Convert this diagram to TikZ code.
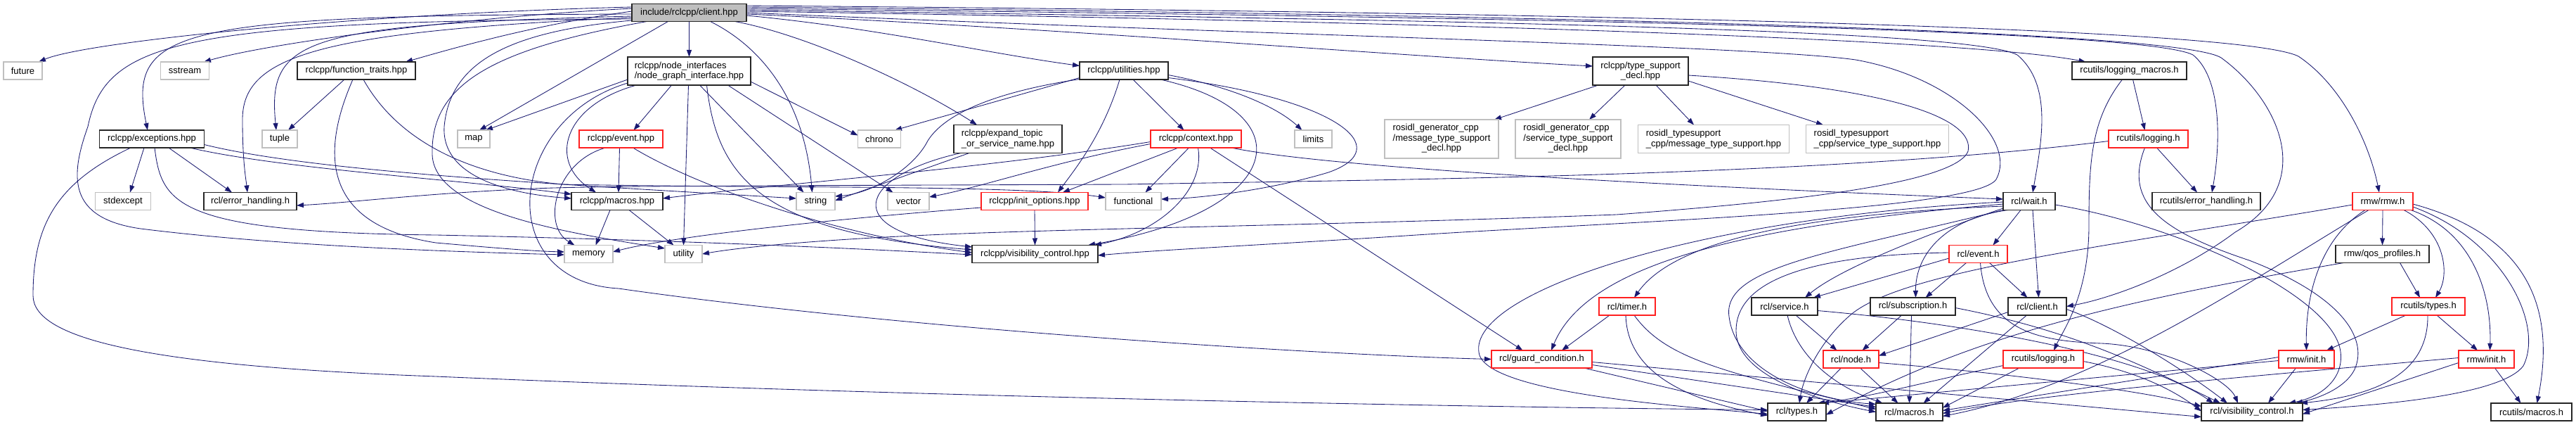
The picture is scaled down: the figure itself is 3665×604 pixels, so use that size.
\documentclass[tikz,border=0pt]{standalone}
\usepackage{fontspec}
\setmainfont{Liberation Sans}
\usetikzlibrary{arrows.meta}
\pgfdeclarelayer{bg}
\pgfsetlayers{bg,main}
\definecolor{edgecol}{HTML}{191970}
\definecolor{sysgray}{HTML}{BFBFBF}
\definecolor{redline}{HTML}{FF2020}
\definecolor{rootgray}{HTML}{BFBFBF}
\begin{document}
\begin{tikzpicture}[x=1pt,y=-1pt,
  box/.style={rectangle,minimum height=25pt,inner sep=0pt,outer sep=0pt,line width=1.2pt,fill=white,text=black,font=\fontsize{13pt}{14.5pt}\selectfont},
  blk/.style={box,draw=black!85},
  sys/.style={box,draw=sysgray},
  rbox/.style={box,draw=redline},
  dep/.style={draw=edgecol,line width=0.85pt,-{Triangle[length=10pt,width=7pt]}}]
\useasboundingbox (0,0) rectangle (3665,604);
\begin{pgfonlayer}{bg}
\fill[white] (0,0) rectangle (3665,604);
\end{pgfonlayer}

% ---------- nodes ----------
\node[blk,minimum width=163pt,fill=rootgray] (C) at (980.5,18) {include/rclcpp/client.hpp};
\node[sys,minimum width=55pt] (future) at (32.5,100.5) {future};
\node[sys,minimum width=69pt] (sstream) at (263,100.5) {sstream};
\node[blk,minimum width=168pt] (ft) at (507,100.5) {rclcpp/function\_traits.hpp};
\node[blk,minimum width=175pt,minimum height=40pt,align=left] (ngi) at (980.5,101) {rclcpp/node\_interfaces\\/node\_graph\_interface.hpp};
\node[blk,minimum width=126pt] (util) at (1599,100.5) {rclcpp/utilities.hpp};
\node[blk,minimum width=136pt,minimum height=40pt,align=center] (tsd) at (2334,101) {rclcpp/type\_support\\\_decl.hpp};
\node[blk,minimum width=163pt] (lm) at (3029.5,100.5) {rcutils/logging\_macros.h};
\node[blk,minimum width=149pt] (exc) at (216,197.5) {rclcpp/exceptions.hpp};
\node[sys,minimum width=50pt] (tuple) at (398,197.5) {tuple};
\node[sys,minimum width=46pt] (map) at (674,197.5) {map};
\node[rbox,minimum width=119pt] (evhpp) at (883.5,197.5) {rclcpp/event.hpp};
\node[sys,minimum width=61pt] (chrono) at (1251,197.5) {chrono};
\node[blk,minimum width=154pt,minimum height=40pt,align=left] (etn) at (1434,197.5) {rclcpp/expand\_topic\\\_or\_service\_name.hpp};
\node[rbox,minimum width=129pt] (ctx) at (1701.5,197.5) {rclcpp/context.hpp};
\node[sys,minimum width=53pt] (limits) at (1868.5,197.5) {limits};
\node[sys,minimum width=162pt,minimum height=55pt] (rgm) at (2051,197.5) {\begin{tabular}{@{}l@{}}rosidl\_generator\_cpp\\/message\_type\_support\\\multicolumn{1}{@{}c@{}}{\_decl.hpp}\end{tabular}};
\node[sys,minimum width=150pt,minimum height=55pt] (rgs) at (2231,197.5) {\begin{tabular}{@{}l@{}}rosidl\_generator\_cpp\\/service\_type\_support\\\multicolumn{1}{@{}c@{}}{\_decl.hpp}\end{tabular}};
\node[sys,minimum width=215pt,minimum height=40pt,align=left] (rtm) at (2438,197.5) {rosidl\_typesupport\\\_cpp/message\_type\_support.hpp};
\node[sys,minimum width=203pt,minimum height=40pt,align=left] (rts) at (2671,197.5) {rosidl\_typesupport\\\_cpp/service\_type\_support.hpp};
\node[rbox,minimum width=113pt] (rlog1) at (3056.5,197.5) {rcutils/logging.h};
\node[sys,minimum width=79pt] (stdexc) at (175,286) {stdexcept};
\node[blk,minimum width=132pt] (rerr) at (356,286) {rcl/error\_handling.h};
\node[blk,minimum width=130pt] (mac) at (878,286) {rclcpp/macros.hpp};
\node[sys,minimum width=55pt] (str) at (1160.5,286) {string};
\node[sys,minimum width=59pt] (vec) at (1292.5,286) {vector};
\node[rbox,minimum width=152pt] (iopt) at (1472,286) {rclcpp/init\_options.hpp};
\node[sys,minimum width=79pt] (func) at (1612.5,286) {functional};
\node[blk,minimum width=74pt] (wait) at (2887,286) {rcl/wait.h};
\node[blk,minimum width=154pt] (rcerr) at (3139,286) {rcutils/error\_handling.h};
\node[rbox,minimum width=86pt] (rmw) at (3390,286) {rmw/rmw.h};
\node[sys,minimum width=69pt] (mem) at (837.5,361) {memory};
\node[sys,minimum width=53pt] (utl) at (972.5,361) {utility};
\node[blk,minimum width=179pt] (vis) at (1472.5,361) {rclcpp/visibility\_control.hpp};
\node[rbox,minimum width=83pt] (rev) at (2814.5,361) {rcl/event.h};
\node[blk,minimum width=133pt] (qos) at (3389.5,361) {rmw/qos\_profiles.h};
\node[rbox,minimum width=80pt] (timer) at (2315,435.5) {rcl/timer.h};
\node[blk,minimum width=94pt] (srv) at (2539,435.5) {rcl/service.h};
\node[blk,minimum width=121pt] (sub) at (2721.5,435.5) {rcl/subscription.h};
\node[blk,minimum width=83pt] (cli) at (2898.5,435.5) {rcl/client.h};
\node[rbox,minimum width=104pt] (rtypes) at (3455,435.5) {rcutils/types.h};
\node[rbox,minimum width=143pt] (guard) at (2193.5,510.5) {rcl/guard\_condition.h};
\node[rbox,minimum width=79pt] (rnode) at (2633.5,510.5) {rcl/node.h};
\node[rbox,minimum width=114pt] (rlog2) at (2907,510.5) {rcutils/logging.h};
\node[rbox,minimum width=79pt] (init1) at (3281.5,510.5) {rmw/init.h};
\node[rbox,minimum width=79pt] (init2) at (3537.5,510.5) {rmw/init.h};
\node[blk,minimum width=83pt] (types) at (2556.5,585.5) {rcl/types.h};
\node[blk,minimum width=95pt] (macros) at (2716.5,585.5) {rcl/macros.h};
\node[blk,minimum width=144pt] (rvis) at (3204,585.5) {rcl/visibility\_control.h};
\node[blk,minimum width=115pt] (rumac) at (3601.5,585.5) {rcutils/macros.h};

% ---------- edges ----------
\begin{pgfonlayer}{bg}
% client.hpp
\draw[dep] ([yshift=8pt]C.west) .. controls (500,20) and (120,60) .. ([xshift=22.5pt]future.north);
\draw[dep] ([yshift=6pt]C.west) .. controls (650,25) and (380,62) .. ([xshift=27pt]sstream.north);
\draw[dep] ([yshift=2pt]C.west) .. controls (760,35) and (640,70) .. ([xshift=70pt]ft.north);
\draw[dep] ([yshift=-2pt]C.west) .. controls (250,22) and (180,40) .. ([xshift=-6pt]exc.north);
\draw[dep] ([yshift=-5pt]C.west) .. controls (430,35) and (380,55) .. ([xshift=-5pt]tuple.north);
\draw[dep] ([yshift=-7pt]C.west) .. controls (450,45) and (345,80) .. (345,170) .. controls (345,230) and (350,255) .. ([xshift=-4pt]rerr.north);
\draw[dep] ([yshift=-9pt]C.west) .. controls (250,30) and (150,60) .. (125,180) .. controls (100,250) and (95,310) .. (200,325) .. controls (400,350) and (650,358) .. ([yshift=-1pt]mem.west);
\draw[dep] ([yshift=-11pt]C.west) .. controls (720,45) and (640,90) .. (632,180) .. controls (628,250) and (720,275) .. ([yshift=4pt]mac.west);
\draw[dep] ([xshift=-60pt]C.south) .. controls (700,70) and (612,120) .. (615,220) .. controls (618,300) and (800,330) .. ([yshift=8pt]utl.west);
\draw[dep] ([xshift=-30pt]C.south) -- ([xshift=8pt]map.north);
\draw[dep] (C.south) -- (ngi.north);
\draw[dep] ([xshift=30pt]C.south) .. controls (1090,70) and (1145,150) .. ([xshift=-5pt]str.north);
\draw[dep] ([xshift=65pt]C.south) .. controls (1150,50) and (1300,120) .. ([xshift=-44pt]etn.north);
\draw[dep] ([yshift=-4pt]C.east) .. controls (1250,40) and (1400,75) .. ([yshift=7pt]util.west);
\draw[dep] ([yshift=-2pt]C.east) .. controls (1500,40) and (2000,80) .. ([yshift=7pt]tsd.west);
\draw[dep] ([yshift=2pt]C.east) .. controls (2000,30) and (2800,55) .. ([xshift=-62pt]lm.north);
\draw[dep] ([yshift=4pt]C.east) .. controls (2000,28) and (2800,40) .. (2870,78) .. controls (2920,120) and (2905,200) .. ([xshift=5pt]wait.north);
\draw[dep] ([yshift=6pt]C.east) .. controls (2200,25) and (3050,42) .. (3120,78) .. controls (3160,110) and (3160,200) .. ([xshift=8pt]rcerr.north);
\draw[dep] ([yshift=8pt]C.east) .. controls (2300,22) and (3100,45) .. (3160,82) .. controls (3240,140) and (3300,260) .. (3180,330) .. controls (3100,390) and (3000,425) .. (cli.east);
\draw[dep] ([yshift=10pt]C.east) .. controls (2500,20) and (3200,45) .. (3270,80) .. controls (3330,120) and (3370,200) .. ([xshift=-5pt]rmw.north);
\draw[dep] (C.east) .. controls (1800,50) and (2500,65) .. (2640,85) .. controls (2780,110) and (2870,200) .. (2840,255) .. controls (2810,300) and (2300,315) .. (2000,335) .. controls (1800,348) and (1650,355) .. ([yshift=-2pt]vis.east);
% node_graph_interface
\draw[dep] ([yshift=-12pt]ngi.west) -- ([xshift=17pt]map.north);
\draw[dep] ([xshift=-75pt]ngi.south) .. controls (800,150) and (780,230) .. ([xshift=-30pt]mac.north);
\draw[dep] ([xshift=-25pt]ngi.south) -- ([xshift=18pt]evhpp.north);
\draw[dep] ([xshift=-1pt]ngi.south) -- (utl.north);
\draw[dep] ([xshift=15pt]ngi.south) -- ([xshift=-17pt]str.north);
\draw[dep] ([xshift=25pt]ngi.south) .. controls (1020,250) and (1080,330) .. ([yshift=6pt]vis.west);
\draw[dep] ([xshift=55pt]ngi.south) -- ([xshift=-22pt]vec.north);
\draw[dep] ([yshift=-15pt]ngi.east) -- ([yshift=5pt]chrono.west);
\draw[dep] ([yshift=-17pt]ngi.west) .. controls (720,170) and (700,400) .. (880,410) .. controls (1300,470) and (1900,505) .. (guard.west);
% function_traits
\draw[dep] ([xshift=-17pt]ft.south) -- ([xshift=12pt]tuple.north);
\draw[dep] ([xshift=-5pt]ft.south) .. controls (455,220) and (460,320) .. (620,345) .. controls (700,352) and (760,357) .. ([yshift=3pt]mem.west);
\draw[dep] ([xshift=10pt]ft.south) .. controls (560,190) and (650,248) .. (800,262) .. controls (1100,268) and (1450,262) .. ([yshift=5pt]func.west);
% exceptions
\draw[dep] ([xshift=-11pt]exc.south) -- ([xshift=10pt]stdexc.north);
\draw[dep] ([xshift=24pt]exc.south) -- ([xshift=-26pt]rerr.north);
\draw[dep] ([xshift=4pt]exc.south) .. controls (230,290) and (250,330) .. (620,334) .. controls (1000,342) and (1250,355) .. ([yshift=-1pt]vis.west);
\draw[dep] ([xshift=-30pt]exc.south) .. controls (80,260) and (47,320) .. (47,420) .. controls (47,480) and (200,520) .. (620,535) .. controls (1200,560) and (2000,578) .. ([yshift=3pt]types.west);
\draw[dep] ([xshift=54pt]exc.south) .. controls (400,240) and (650,255) .. ([yshift=10pt]mac.west);
\draw[dep] ([yshift=-8pt]exc.east) .. controls (450,245) and (800,262) .. ([yshift=4pt]str.west);
% event.hpp
\draw[dep] ([xshift=-2pt]evhpp.south) -- ([xshift=2pt]mac.north);
\draw[dep] ([xshift=-22pt]evhpp.south) .. controls (790,230) and (770,320) .. ([xshift=-20pt]mem.north);
\draw[dep] ([xshift=17pt]evhpp.south) .. controls (1000,270) and (1200,335) .. ([yshift=2pt]vis.west);
% macros.hpp
\draw[dep] ([xshift=-10pt]mac.south) -- ([xshift=10pt]mem.north);
\draw[dep] ([xshift=17pt]mac.south) -- ([xshift=-14pt]utl.north);
% utilities
\draw[dep] ([yshift=-10pt]util.west) -- ([xshift=22pt]chrono.north);
\draw[dep] ([yshift=-12pt]util.west) .. controls (1420,130) and (1345,160) .. (1320,200) .. controls (1300,240) and (1240,275) .. ([yshift=7pt]str.east);
\draw[dep] ([xshift=-6pt]util.south) .. controls (1570,190) and (1530,240) .. ([xshift=33pt]iopt.north);
\draw[dep] ([xshift=13pt]util.south) -- ([xshift=-17pt]ctx.north);
\draw[dep] ([yshift=-6pt]util.east) .. controls (1760,125) and (1820,155) .. ([xshift=-16pt]limits.north);
\draw[dep] ([xshift=52pt]util.south) .. controls (1860,160) and (1830,300) .. ([xshift=-14pt]vis.north east);
\draw[dep] ([yshift=-10pt]util.east) .. controls (1900,140) and (1990,210) .. (1890,245) .. controls (1800,272) and (1700,282) .. ([yshift=3pt]func.east);
% expand_topic
\draw[dep] ([xshift=-55pt]etn.south) -- ([yshift=1pt]str.east);
\draw[dep] ([xshift=-67pt]etn.south) .. controls (1220,250) and (1190,330) .. ([yshift=10pt]vis.west);
% context
\draw[dep] ([xshift=-25pt]ctx.south) -- ([xshift=40pt]iopt.north);
\draw[dep] ([xshift=-10pt]ctx.south) -- ([xshift=17pt]func.north);
\draw[dep] ([xshift=3pt]ctx.south) .. controls (1715,270) and (1650,330) .. ([xshift=-5pt]vis.north east);
\draw[dep] ([xshift=20pt]ctx.south) -- ([xshift=-27pt]guard.north);
\draw[dep] ([xshift=50pt]ctx.south) .. controls (1900,240) and (2400,265) .. ([yshift=3pt]wait.west);
\draw[dep] ([yshift=-4pt]ctx.west) .. controls (1400,240) and (1100,262) .. ([yshift=4pt]mac.east);
\draw[dep] ([yshift=-7pt]ctx.west) .. controls (1500,230) and (1400,265) .. ([yshift=6pt]vec.east);
% init_options
\draw[dep] (iopt.south) -- (vis.north);
\draw[dep] ([yshift=-9pt]iopt.west) .. controls (1200,310) and (960,335) .. ([yshift=3pt]mem.east);
% type_support_decl
\draw[dep] ([xshift=-60pt]tsd.south) -- ([xshift=75pt]rgm.north);
\draw[dep] ([xshift=-22pt]tsd.south) -- ([xshift=30pt]rgs.north);
\draw[dep] ([xshift=22pt]tsd.south) -- ([xshift=-28pt]rtm.north);
\draw[dep] ([yshift=-14pt]tsd.east) -- ([xshift=-77pt]rts.north);
\draw[dep] ([yshift=-6pt]tsd.east) .. controls (2700,125) and (2810,170) .. (2800,215) .. controls (2780,265) and (2500,290) .. (2300,305) .. controls (1900,320) and (1500,325) .. (1300,335) .. controls (1150,342) and (1050,352) .. (utl.east);
% logging_macros
\draw[dep] ([xshift=5pt]lm.south) -- ([xshift=-5pt]rlog1.north);
\draw[dep] ([xshift=-10pt]lm.south) .. controls (2975,170) and (2972,230) .. (2972,320) .. controls (2972,420) and (2935,470) .. ([xshift=15pt]rlog2.north);
% rcutils/logging.h (upper)
\draw[dep] ([xshift=12pt]rlog1.south) -- ([xshift=-13pt]rcerr.north);
\draw[dep] ([xshift=-5pt]rlog1.south) .. controls (3020,290) and (3080,330) .. (3200,370) .. controls (3330,420) and (3370,480) .. (3350,525) .. controls (3335,555) and (3290,568) .. ([xshift=-10pt]rvis.north east);
\draw[dep] ([yshift=-3pt]rlog1.west) .. controls (2600,250) and (2000,255) .. (1600,262) .. controls (1100,264) and (850,264) .. (760,268) .. controls (600,275) and (500,288) .. ([yshift=-6pt]rerr.east);
% rcl/wait.h
\draw[dep] ([xshift=-12pt]wait.south) -- ([xshift=21pt]rev.north);
\draw[dep] ([xshift=5pt]wait.south) -- ([xshift=2pt]cli.north);
\draw[dep] ([xshift=-30pt]wait.south) .. controls (2770,310) and (2725,360) .. ([xshift=4pt]sub.north);
\draw[dep] ([yshift=-10pt]wait.west) .. controls (2750,330) and (2620,380) .. ([xshift=29pt]srv.north);
\draw[dep] ([yshift=-4pt]wait.west) .. controls (2500,320) and (2260,370) .. ([xshift=13.5pt]guard.north);
\draw[dep] ([yshift=-7pt]wait.west) .. controls (2550,305) and (2380,345) .. ([xshift=10pt]timer.north);
\draw[dep] ([yshift=-1pt]wait.west) .. controls (2400,310) and (2080,420) .. (2105,505) .. controls (2125,560) and (2400,578) .. ([yshift=-3pt]types.west);
\draw[dep] (wait.south west) .. controls (2600,360) and (2450,380) .. (2460,450) .. controls (2470,530) and (2580,568) .. ([yshift=11pt]macros.west);
\draw[dep] ([yshift=-5pt]wait.east) .. controls (3100,320) and (3320,420) .. (3330,500) .. controls (3335,540) and (3300,565) .. ([xshift=-20pt]rvis.north east);
% rcl/event.h
\draw[dep] ([yshift=-6pt]rev.west) -- ([xshift=41pt]srv.north);
\draw[dep] ([xshift=-17pt]rev.south) -- ([xshift=18pt]sub.north);
\draw[dep] ([xshift=16pt]rev.south) -- ([xshift=-14pt]cli.north);
\draw[dep] ([yshift=2pt]rev.west) .. controls (2600,362) and (2470,390) .. (2470,470) .. controls (2470,535) and (2590,570) .. (macros.west);
\draw[dep] ([xshift=3pt]rev.south) .. controls (2825,470) and (2900,485) .. (2990,488) .. controls (3080,492) and (3170,540) .. ([xshift=-20pt]rvis.north);
% rcl/service.h
\draw[dep] ([xshift=16pt]srv.south) -- ([xshift=-20pt]rnode.north);
\draw[dep] ([xshift=4pt]srv.south) .. controls (2555,500) and (2600,545) .. ([xshift=-38pt]macros.north);
\draw[dep] ([yshift=-6pt]srv.east) .. controls (2800,460) and (3050,505) .. ([xshift=-55pt]rvis.north);
% rcl/subscription.h
\draw[dep] ([xshift=-16pt]sub.south) -- ([xshift=16pt]rnode.north);
\draw[dep] ([xshift=-2pt]sub.south) -- (macros.north);
\draw[dep] ([yshift=-2pt]sub.east) .. controls (2950,470) and (3050,520) .. ([xshift=-45pt]rvis.north);
% rcl/client.h
\draw[dep] ([yshift=-8pt]cli.west) -- ([yshift=5pt]rnode.east);
\draw[dep] ([xshift=-15pt]cli.south) -- ([xshift=20pt]macros.north);
\draw[dep] ([yshift=-4pt]cli.east) .. controls (3000,460) and (3100,520) .. ([xshift=-35pt]rvis.north);
% rcl/node.h
\draw[dep] ([xshift=-14pt]rnode.south) -- ([xshift=13.5pt]types.north);
\draw[dep] ([xshift=13pt]rnode.south) -- ([xshift=-16pt]macros.north);
\draw[dep] ([yshift=-5pt]rnode.east) .. controls (2850,530) and (3050,555) .. ([yshift=8pt]rvis.west);
% rcutils/logging.h (lower)
\draw[dep] ([xshift=-34pt]rlog2.south) -- ([yshift=6pt]macros.east);
\draw[dep] ([yshift=-9pt]rlog2.west) .. controls (2750,540) and (2660,565) .. ([xshift=-12pt]types.north east);
\draw[dep] ([yshift=-3pt]rlog2.east) .. controls (3050,530) and (3100,560) .. ([yshift=1pt]rvis.west);
% rcl/timer.h
\draw[dep] ([xshift=-25pt]timer.south) -- ([xshift=28.5pt]guard.north);
\draw[dep] ([xshift=-2pt]timer.south) .. controls (2315,520) and (2380,565) .. ([yshift=-5pt]types.west);
\draw[dep] ([xshift=10pt]timer.south) .. controls (2370,510) and (2450,528) .. ([yshift=4pt]macros.west);
% rcl/guard_condition.h
\draw[dep] ([xshift=60pt]guard.south) -- ([yshift=1pt]types.west);
\draw[dep] ([yshift=-8pt]guard.east) -- ([yshift=7pt]macros.west);
\draw[dep] ([yshift=-4pt]guard.east) -- ([yshift=-7pt]rvis.west);
% rmw/rmw.h
\draw[dep] (rmw.south) -- (qos.north);
\draw[dep] ([xshift=-25pt]rmw.south) .. controls (3300,340) and (3280,420) .. (init1.north);
\draw[dep] ([xshift=30pt]rmw.south) .. controls (3480,330) and (3485,390) .. ([xshift=10pt]rtypes.north);
\draw[dep] ([xshift=40pt]rmw.south) .. controls (3520,330) and (3545,420) .. ([xshift=5pt]init2.north);
\draw[dep] ([yshift=-4pt]rmw.east) .. controls (3580,330) and (3640,420) .. ([xshift=8pt]rumac.north);
\draw[dep] ([yshift=-8pt]rmw.east) .. controls (3560,340) and (3620,460) .. (3590,520) .. controls (3560,560) and (3400,575) .. ([yshift=3pt]rvis.east);
\draw[dep] ([yshift=-5pt]rmw.west) .. controls (3000,350) and (2700,385) .. (2630,450) .. controls (2585,490) and (2565,540) .. ([xshift=3.5pt]types.north);
\draw[dep] ([xshift=-20pt]rmw.south) .. controls (3200,400) and (2980,550) .. ([yshift=-6pt]macros.east);
% rmw/qos_profiles.h
\draw[dep] ([xshift=25pt]qos.south) -- ([xshift=-12pt]rtypes.north);
\draw[dep] ([xshift=-55pt]qos.south) .. controls (3000,430) and (2800,480) .. ([yshift=-4pt]types.east);
% rcutils/types.h
\draw[dep] ([xshift=-32pt]rtypes.south) -- ([xshift=28.5pt]init1.north);
\draw[dep] ([xshift=12pt]rtypes.south) -- ([xshift=-12.5pt]init2.north);
\draw[dep] ([xshift=-1pt]rtypes.south) .. controls (3455,520) and (3400,560) .. ([xshift=-3pt]rvis.north east);
% rmw/init.h (left)
\draw[dep] ([xshift=-15pt]init1.south) -- ([xshift=23pt]rvis.north);
\draw[dep] ([yshift=3pt]init1.west) -- ([yshift=2pt]macros.east);
\draw[dep] ([yshift=-2pt]init1.west) -- ([xshift=-6pt]types.north east);
% rmw/init.h (right)
\draw[dep] ([xshift=12pt]init2.south) -- ([xshift=-15pt]rumac.north);
\draw[dep] ([yshift=-5pt]init2.west) -- ([yshift=-3pt]rvis.east);
\draw[dep] ([yshift=2pt]init2.west) .. controls (3200,535) and (2900,560) .. ([yshift=-2pt]macros.east);
\end{pgfonlayer}
\end{tikzpicture}
\end{document}
